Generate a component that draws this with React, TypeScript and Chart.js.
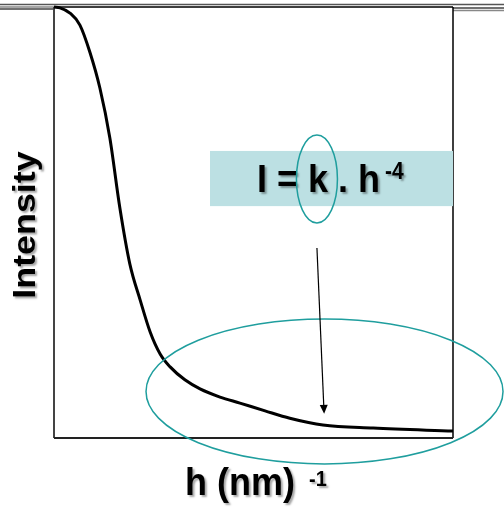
import React, { useEffect, useRef } from "react";
import { Chart, registerables } from "chart.js";

Chart.register(...registerables);

// Scattering vector h (nm^-1), arbitrary units 0..100
const hValues = [0, 1.5, 4.0, 6.5, 9.0, 11.5, 14.0, 16.5, 19.0, 21.6, 24.1, 26.6, 29.1, 32.8, 36.6, 41.6, 46.6, 52.9, 59.1, 67.4, 80.0, 100];
// Intensity, arbitrary units 0..100
const intensityValues = [100, 99.8, 98.6, 95.8, 89.5, 81.2, 69.6, 53.4, 40.4, 32.0, 24.6, 19.5, 16.5, 13.5, 11.4, 9.5, 8.1, 6.3, 4.6, 3.0, 2.3, 1.6];

const yAxisTitle = "Intensity";
const xAxisTitle = "h (nm)";
const xAxisTitleSup = "-1";
const formulaMain = "I = k . h";
const formulaSup = "-4";

const TEAL = "#1f9e9e";

function drawStretchedText(
  ctx: CanvasRenderingContext2D,
  text: string,
  x: number,
  y: number,
  size: number,
  sy: number
) {
  ctx.save();
  ctx.translate(x, y);
  ctx.scale(1, sy);
  ctx.font = `bold ${size}px "Liberation Sans", Arial, sans-serif`;
  ctx.textAlign = "left";
  ctx.textBaseline = "alphabetic";
  ctx.shadowColor = "rgba(0,0,0,0.35)";
  ctx.shadowOffsetX = 2;
  ctx.shadowOffsetY = 2;
  ctx.shadowBlur = 2;
  ctx.fillStyle = "#000";
  ctx.fillText(text, 0, 0);
  ctx.restore();
}

const framePlugin = {
  id: "frame",
  beforeDatasetsDraw(chart: any) {
    const { ctx, chartArea } = chart;
    const { left, right, top, bottom } = chartArea;
    ctx.save();
    // top decorative lines
    ctx.lineWidth = 1.5;
    ctx.strokeStyle = "#555";
    ctx.beginPath();
    ctx.moveTo(0, 4.5);
    ctx.lineTo(chart.width, 4.5);
    ctx.stroke();
    ctx.strokeStyle = "#888";
    ctx.beginPath();
    ctx.moveTo(0, 7);
    ctx.lineTo(left, 7);
    ctx.moveTo(right, 10.5);
    ctx.lineTo(chart.width, 10.5);
    ctx.stroke();
    ctx.strokeStyle = "#444";
    ctx.beginPath();
    ctx.moveTo(0, 9);
    ctx.lineTo(left, 9);
    ctx.moveTo(right, 8);
    ctx.lineTo(chart.width, 8);
    ctx.stroke();
    // plot frame
    ctx.strokeStyle = "#000";
    ctx.lineWidth = 1.5;
    ctx.beginPath();
    ctx.moveTo(left, top);
    ctx.lineTo(right, top);
    ctx.moveTo(right, top);
    ctx.lineTo(right, bottom);
    ctx.stroke();
    ctx.strokeStyle = "#444";
    ctx.lineWidth = 2;
    ctx.beginPath();
    ctx.moveTo(left, top);
    ctx.lineTo(left, bottom);
    ctx.stroke();
    ctx.strokeStyle = "#222";
    ctx.beginPath();
    ctx.moveTo(left, bottom);
    ctx.lineTo(right, bottom);
    ctx.stroke();
    ctx.restore();
  },
  afterDraw(chart: any) {
    const { ctx } = chart;
    const xs = chart.scales.x;
    const ys = chart.scales.y;
    const px = (v: number) => xs.getPixelForValue(v);
    const py = (v: number) => ys.getPixelForValue(v);
    ctx.save();

    // formula box
    const bx1 = px(39.1), bx2 = px(100), by1 = py(66.6), by2 = py(53.8);
    ctx.fillStyle = "#bce0e3";
    ctx.fillRect(bx1, by1, bx2 - bx1, by2 - by1);
    drawStretchedText(ctx, formulaMain, bx1 + 47, by1 + 41, 36, 1.1);
    drawStretchedText(ctx, formulaSup, bx1 + 175, by1 + 28, 21, 1.1);

    // small ellipse around k
    ctx.strokeStyle = TEAL;
    ctx.lineWidth = 1.5;
    ctx.beginPath();
    ctx.ellipse(px(65.9), py(60.1), 20.5, 44, 0, 0, Math.PI * 2);
    ctx.stroke();

    // big ellipse around tail
    ctx.beginPath();
    ctx.ellipse(px(67.8), py(10.8), 178.5, 72.5, 0, 0, Math.PI * 2);
    ctx.stroke();

    // arrow
    const ax1 = px(65.9), ay1 = py(44.1), ax2 = px(67.7), ay2 = py(5.6);
    const ang = Math.atan2(ay2 - ay1, ax2 - ax1);
    ctx.strokeStyle = "#000";
    ctx.fillStyle = "#000";
    ctx.lineWidth = 1.2;
    ctx.beginPath();
    ctx.moveTo(ax1, ay1);
    ctx.lineTo(ax2 - 8 * Math.cos(ang), ay2 - 8 * Math.sin(ang));
    ctx.stroke();
    ctx.beginPath();
    ctx.moveTo(ax2, ay2);
    ctx.lineTo(ax2 - 9 * Math.cos(ang) + 4 * Math.sin(ang), ay2 - 9 * Math.sin(ang) - 4 * Math.cos(ang));
    ctx.lineTo(ax2 - 9 * Math.cos(ang) - 4 * Math.sin(ang), ay2 - 9 * Math.sin(ang) + 4 * Math.cos(ang));
    ctx.closePath();
    ctx.fill();

    // axis titles
    drawStretchedText(ctx, xAxisTitle, 185, 495, 36, 1.1);
    drawStretchedText(ctx, xAxisTitleSup, 309, 486, 20, 1.1);

    ctx.save();
    ctx.translate(35, 225);
    ctx.rotate(-Math.PI / 2);
    ctx.scale(1.12, 1);
    ctx.font = `bold 32px "Liberation Sans", Arial, sans-serif`;
    ctx.textAlign = "center";
    ctx.textBaseline = "alphabetic";
    ctx.shadowColor = "rgba(0,0,0,0.35)";
    ctx.shadowOffsetX = 2;
    ctx.shadowOffsetY = 2;
    ctx.shadowBlur = 2;
    ctx.fillStyle = "#000";
    ctx.fillText(yAxisTitle, 0, 0);
    ctx.restore();

    ctx.restore();
  },
};

export default function App() {
  const canvasRef = useRef<HTMLCanvasElement | null>(null);

  useEffect(() => {
    if (!canvasRef.current) return;
    const chart = new Chart(canvasRef.current, {
      type: "line",
      data: {
        datasets: [
          {
            data: hValues.map((h, i) => ({ x: h, y: intensityValues[i] })),
            borderColor: "#000",
            borderWidth: 3,
            pointRadius: 0,
            fill: false,
            cubicInterpolationMode: "monotone",
            clip: false as any,
          },
        ],
      },
      options: {
        responsive: false,
        animation: false,
        layout: { padding: { left: 54, right: 51, top: 7, bottom: 69 } },
        plugins: { legend: { display: false }, tooltip: { enabled: false } },
        scales: {
          x: { type: "linear", min: 0, max: 100, display: false },
          y: { type: "linear", min: 0, max: 100, display: false },
        },
      },
      plugins: [framePlugin],
    });
    return () => chart.destroy();
  }, []);

  return (
    <div style={{ position: "fixed", left: 0, top: 0, width: 504, height: 507, background: "#fff" }}>
      <canvas ref={canvasRef} width={504} height={507} style={{ display: "block" }} />
    </div>
  );
}
